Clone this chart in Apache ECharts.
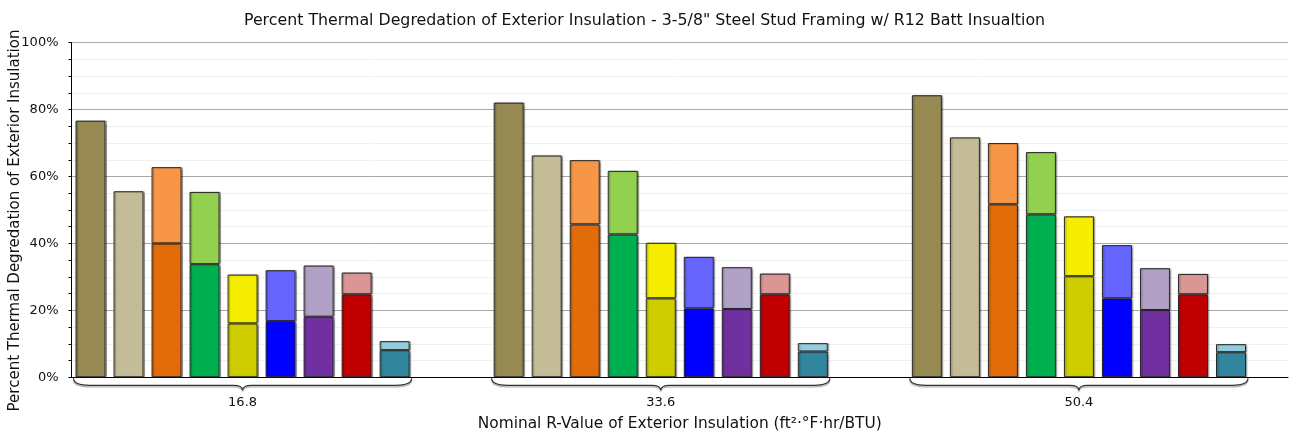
<!DOCTYPE html>
<html>
<head>
<meta charset="utf-8">
<script src="https://cdn.jsdelivr.net/npm/echarts@6/dist/echarts.min.js"></script>
<style>html,body{margin:0;padding:0;background:#fff}#c{width:1289px;height:439px}</style>
</head>
<body>
<div id="c"></div>
<script>
// ---- data ----
const rValues = ['16.8', '33.6', '50.4'];
const total_16_8 = [76.7, 55.6, 62.8, 55.4, 30.7, 32.0, 33.4, 31.3, 10.8];
const lower_16_8 = [76.7, 55.6, 40.0, 33.8, 16.1, 16.8, 18.1, 24.8, 8.1];
const total_33_6 = [82.1, 66.3, 64.9, 61.7, 40.2, 36.0, 32.9, 31.0, 10.2];
const lower_33_6 = [82.1, 66.3, 45.7, 42.7, 23.6, 20.6, 20.4, 24.8, 7.7];
const total_50_4 = [84.3, 71.7, 70.0, 67.3, 48.1, 39.5, 32.6, 30.9, 9.9];
const lower_50_4 = [84.3, 71.7, 51.7, 48.7, 30.2, 23.6, 20.1, 24.8, 7.5];
const yTickLabels = ['0%', '20%', '40%', '60%', '80%', '100%'];

// ---- styles ----
const lowerColors = ['#968A52', '#C4BC97', '#E36C0A', '#00B050', '#CDCD00', '#0000FF', '#7030A0', '#C00000', '#31859C'];
const upperColors = ['#968A52', '#C4BC97', '#F79646', '#92D050', '#F5EE00', '#6666FF', '#B2A1C7', '#D99694', '#93CDDD'];
const FONT = 'DejaVu Sans';

const totals = [total_16_8, total_33_6, total_50_4];
const lowers = [lower_16_8, lower_33_6, lower_50_4];
const BARS = 9, SLOTS_PER_GROUP = 11, NSLOTS = 32;

const slotIds = [], slotLabels = [], lowerData = [], upperData = [], braces = [];
for (let s = 0; s < NSLOTS; s++) {
  slotIds.push('s' + s);
  slotLabels.push('');
  lowerData.push('-');
  upperData.push('-');
}
rValues.forEach((rv, g) => {
  const base = g * SLOTS_PER_GROUP;
  slotLabels[base + 4] = rv;
  braces.push([base, base + BARS - 1]);
  for (let b = 0; b < BARS; b++) {
    const lo = lowers[g][b], tot = totals[g][b];
    const up = Math.round((tot - lo) * 10) / 10;
    lowerData[base + b] = { value: lo, itemStyle: { color: lowerColors[b] } };
    upperData[base + b] = up > 0 ? { value: up, itemStyle: { color: upperColors[b] } } : '-';
  }
});

const barStyle = {
  borderColor: '#262626', borderWidth: 1,
  shadowColor: 'rgba(0,0,0,0.28)', shadowBlur: 1, shadowOffsetX: 1.5, shadowOffsetY: 0
};

const chart = echarts.init(document.getElementById('c'), null, { renderer: 'canvas' });
chart.setOption({
  animation: false,
  backgroundColor: '#ffffff',
  title: {
    text: 'Percent Thermal Degredation of Exterior Insulation - 3-5/8" Steel Stud Framing w/ R12 Batt Insualtion',
    left: 'center', top: 8,
    textStyle: { fontFamily: FONT, fontSize: 15.8, fontWeight: 'normal', color: '#111' }
  },
  grid: { left: 71.5, right: 1, top: 42.7, bottom: 61.7, containLabel: false, outerBoundsMode: 'none' },
  xAxis: {
    type: 'category',
    data: slotIds,
    name: 'Nominal R-Value of Exterior Insulation (ft²·°F·hr/BTU)',
    nameLocation: 'middle', nameGap: 39, nameMoveOverlap: false,
    nameTextStyle: { fontFamily: FONT, fontSize: 15.4, color: '#111' },
    axisLine: { show: true, onZero: false, lineStyle: { color: '#000', width: 1 } },
    axisTick: { show: false },
    axisLabel: {
      interval: 0, margin: 19,
      fontFamily: FONT, fontSize: 13, color: '#111',
      formatter: (v, i) => slotLabels[i]
    },
    splitLine: { show: false }
  },
  yAxis: {
    type: 'value', min: 0, max: 100, interval: 20,
    name: 'Percent Thermal Degredation of Exterior Insulation',
    nameLocation: 'middle', nameGap: 49, nameRotate: 90, nameMoveOverlap: false,
    nameTextStyle: { fontFamily: FONT, fontSize: 15, color: '#111', padding: [0, 21, 0, 0] },
    axisLine: { show: true, lineStyle: { color: '#000', width: 1 } },
    axisTick: { show: true, length: 3, lineStyle: { color: '#000' } },
    minorTick: { show: true, splitNumber: 4, length: 3, lineStyle: { color: '#000' } },
    axisLabel: {
      margin: 13, fontFamily: FONT, fontSize: 13, color: '#111',
      formatter: (v) => yTickLabels[Math.round(v / 20)]
    },
    splitLine: { show: true, lineStyle: { color: '#a8a8a8', width: 1 } },
    minorSplitLine: { show: true, lineStyle: { color: '#f0f0f0', width: 1 } }
  },
  series: [
    {
      name: 'lower', type: 'bar', stack: 'deg', barWidth: 30,
      itemStyle: barStyle, data: lowerData, z: 3
    },
    {
      name: 'upper', type: 'bar', stack: 'deg', barWidth: 30,
      itemStyle: barStyle, data: upperData, z: 2
    },
    {
      name: 'braces', type: 'custom', silent: true, clip: false,
      encode: { x: 0, y: 1 },
      data: braces,
      renderItem: (params, api) => {
        const s = api.coord([api.value(0), 0]);
        const e = api.coord([api.value(1), 0]);
        const x0 = s[0] - 17, x1 = e[0] + 17;
        const y0 = s[1] + 1, ym = y0 + 7, yt = y0 + 12;
        const xc = (x0 + x1) / 2;
        const d = `M${x0},${y0} Q${x0},${ym} ${x0 + 16},${ym} L${xc - 9},${ym} Q${xc},${ym} ${xc},${yt} Q${xc},${ym} ${xc + 9},${ym} L${x1 - 16},${ym} Q${x1},${ym} ${x1},${y0}`;
        return {
          type: 'path',
          shape: { pathData: d },
          style: {
            fill: null, stroke: '#333', lineWidth: 1.2,
            shadowColor: 'rgba(0,0,0,0.35)', shadowBlur: 1, shadowOffsetY: 1.5
          }
        };
      }
    }
  ]
});
</script>
</body>
</html>
